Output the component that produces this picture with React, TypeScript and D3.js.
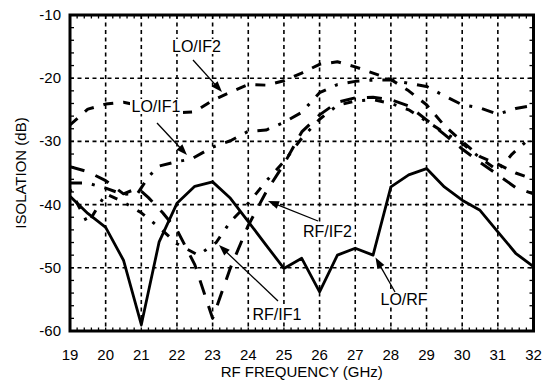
import React from "react";
import * as d3 from "d3";

// ---- Data ----
const xTicks = [19, 20, 21, 22, 23, 24, 25, 26, 27, 28, 29, 30, 31, 32];
const yTicks = [-60, -50, -40, -30, -20, -10];

const loRfFreq = [19, 19.5, 20, 20.5, 21, 21.5, 22, 22.5, 23, 23.5, 24, 24.5, 25, 25.5, 26, 26.5, 27, 27.5, 28, 28.5, 29, 29.5, 30, 30.5, 31, 31.5, 32];
const loRfIso = [-38.7, -41.4, -43.6, -48.8, -59.0, -45.9, -39.8, -37.1, -36.4, -39.0, -42.7, -46.4, -50.1, -48.5, -53.8, -48.0, -46.9, -48.0, -37.2, -35.3, -34.3, -37.2, -39.3, -40.9, -44.3, -47.7, -49.8];

const loIf2Freq = [19, 19.5, 20, 20.5, 21, 21.5, 22, 22.5, 23, 23.5, 24, 24.5, 25, 25.5, 26, 26.5, 27, 27.5, 28, 28.5, 29, 29.5, 30, 30.5, 31, 31.5, 32];
const loIf2Iso = [-27.4, -24.9, -24.1, -23.8, -24.4, -25.1, -25.5, -25.3, -23.5, -22.2, -21.0, -21.1, -20.4, -19.2, -17.8, -17.4, -18.2, -19.2, -20.2, -22.0, -24.2, -27.5, -30.0, -32.4, -33.6, -35.0, -36.0];

const loIf1Freq = [19, 19.5, 20, 20.5, 20.9, 21.2, 21.5, 22, 22.4, 23, 23.5, 24, 24.5, 25, 25.5, 26, 26.5, 27, 27.5, 28, 28.5, 29, 29.5, 30, 30.5, 31, 31.5, 32];
const loIf1Iso = [-36.6, -36.6, -37.4, -38.4, -38.2, -35.6, -33.9, -33.2, -32.8, -30.9, -29.9, -28.4, -28.2, -27.0, -25.4, -22.3, -21.0, -20.5, -20.3, -20.3, -20.8, -21.3, -22.8, -24.2, -24.7, -25.7, -24.8, -24.3];

const rfIf2Freq = [19, 19.5, 20, 20.5, 20.9, 21.2, 21.6, 22, 22.5, 23, 23.5, 24, 24.5, 25, 25.5, 26, 26.5, 27, 27.5, 28, 28.5, 29, 29.5, 30, 30.5, 31, 31.5, 32];
const rfIf2Iso = [-34.0, -34.8, -36.2, -38.3, -37.4, -38.9, -41.3, -44.0, -49.5, -58.0, -50.0, -43.3, -38.0, -33.6, -28.5, -25.8, -23.8, -23.1, -23.0, -23.4, -24.4, -26.6, -28.9, -31.2, -33.3, -35.3, -37.3, -38.3];

const rfIf1Freq = [19, 19.5, 20, 20.5, 21, 21.5, 22, 22.6, 23.1, 23.5, 24, 24.5, 25, 25.5, 26, 26.5, 27, 27.5, 28, 28.5, 29, 29.5, 30, 30.5, 31, 31.4, 31.8, 32];
const rfIf1Iso = [-37.6, -43.0, -38.3, -39.6, -41.3, -43.6, -46.2, -48.0, -46.0, -42.7, -39.8, -36.3, -33.2, -29.5, -26.5, -24.3, -23.6, -23.4, -24.0, -25.0, -26.8, -28.6, -30.3, -32.6, -34.6, -32.0, -30.0, -29.3];

const seriesNames = ["LO/RF", "LO/IF2", "LO/IF1", "RF/IF2", "RF/IF1"];

// ---- Layout ----
const W = 545;
const H = 391;
const X0 = 70;
const X1 = 533.5;
const Y0 = 15;
const Y1 = 331;
const FONT = "'Liberation Sans', Arial, Helvetica, sans-serif";

const x = d3.scaleLinear().domain([19, 32]).range([X0, X1]);
const y = d3.scaleLinear().domain([-60, -10]).range([Y1, Y0]);

const line = d3
  .line<[number, number]>()
  .x((d) => x(d[0]))
  .y((d) => y(d[1]));

function zip(f: number[], v: number[]): [number, number][] {
  return f.map((d, i) => [d, v[i]]);
}

const series = [
  { name: seriesNames[0], pts: zip(loRfFreq, loRfIso), dash: "none", w: 2.8 },
  { name: seriesNames[1], pts: zip(loIf2Freq, loIf2Iso), dash: "10,10", w: 3 },
  { name: seriesNames[2], pts: zip(loIf1Freq, loIf1Iso), dash: "12,10,3,10", w: 3 },
  { name: seriesNames[3], pts: zip(rfIf2Freq, rfIf2Iso), dash: "15,12", w: 3 },
  { name: seriesNames[4], pts: zip(rfIf1Freq, rfIf1Iso), dash: "3,10,9,10", w: 3 },
];

type Lbl = { text: string; tx: number; ty: number; ax: number; ay: number; bx: number; by: number; w: number };
const labels: Lbl[] = [
  { text: "LO/IF2", tx: 172, ty: 52, ax: 193, ay: 60, bx: 222, by: 92, w: 50 },
  { text: "LO/IF1", tx: 131.5, ty: 112, ax: 157, ay: 123, bx: 187, by: 155, w: 50 },
  { text: "RF/IF2", tx: 303, ty: 237, ax: 318, ay: 221, bx: 268, by: 201, w: 50 },
  { text: "RF/IF1", tx: 252.5, ty: 320, ax: 278, ay: 301, bx: 219, by: 245, w: 50 },
  { text: "LO/RF", tx: 380.5, ty: 305, ax: 395, ay: 292, bx: 375.5, by: 257.5, w: 47 },
];

function Arrow({ ax, ay, bx, by }: { ax: number; ay: number; bx: number; by: number }) {
  const dx = bx - ax;
  const dy = by - ay;
  const len = Math.sqrt(dx * dx + dy * dy);
  const ux = dx / len;
  const uy = dy / len;
  const hl = 11;
  const hw = 4;
  const baseX = bx - ux * hl;
  const baseY = by - uy * hl;
  const p1 = [baseX - uy * hw, baseY + ux * hw];
  const p2 = [baseX + uy * hw, baseY - ux * hw];
  return (
    <g>
      <line x1={ax} y1={ay} x2={baseX + ux * 2} y2={baseY + uy * 2} stroke="#000" strokeWidth={1.3} />
      <polygon points={`${bx},${by} ${p1[0]},${p1[1]} ${p2[0]},${p2[1]}`} fill="#000" />
    </g>
  );
}

export default function App() {
  const minorX = d3.range(19, 32.001, 0.2);
  const minorY = d3.range(-60, -9.999, 2);
  return (
    <svg
      width={W}
      height={H}
      viewBox={`0 0 ${W} ${H}`}
      style={{ position: "absolute", left: 0, top: 0, background: "#fff" }}
    >
      <defs>
        <clipPath id="plotClip">
          <rect x={X0} y={Y0} width={X1 - X0} height={Y1 - Y0} />
        </clipPath>
      </defs>
      <rect x={0} y={0} width={W} height={H} fill="#fff" />
      {/* grid */}
      {xTicks.slice(1, -1).map((t) => (
        <line key={"gx" + t} x1={x(t)} x2={x(t)} y1={Y0} y2={Y1} stroke="#000" strokeWidth={1.6} strokeDasharray="4,3.5" />
      ))}
      {yTicks.slice(1, -1).map((t) => (
        <line key={"gy" + t} x1={X0} x2={X1} y1={y(t)} y2={y(t)} stroke="#000" strokeWidth={1.6} strokeDasharray="4,3.5" />
      ))}
      {/* minor ticks */}
      {minorX.map((t, i) => (
        <g key={"mx" + i}>
          <line x1={x(t)} x2={x(t)} y1={Y0} y2={Y0 + 3.5} stroke="#000" strokeWidth={1.3} />
          <line x1={x(t)} x2={x(t)} y1={Y1} y2={Y1 - 3.5} stroke="#000" strokeWidth={1.3} />
        </g>
      ))}
      {minorY.map((t, i) => (
        <g key={"my" + i}>
          <line x1={X0} x2={X0 + 4} y1={y(t)} y2={y(t)} stroke="#000" strokeWidth={1.3} />
          <line x1={X1} x2={X1 - 4} y1={y(t)} y2={y(t)} stroke="#000" strokeWidth={1.3} />
        </g>
      ))}
      {/* data */}
      <g clipPath="url(#plotClip)">
        {series.map((s) => (
          <path
            key={s.name}
            d={line(s.pts) || ""}
            fill="none"
            stroke="#000"
            strokeWidth={s.w}
            strokeDasharray={s.dash}
            strokeLinejoin="round"
          />
        ))}
      </g>
      {/* frame */}
      <rect x={X0} y={Y0} width={X1 - X0} height={Y1 - Y0} fill="none" stroke="#000" strokeWidth={3} />
      {/* labels */}
      {labels.map((l) => (
        <g key={l.text}>
          <rect x={l.tx - 1.5} y={l.ty - 13} width={l.w + 3} height={15} fill="#fff" />
          <text x={l.tx} y={l.ty} fontFamily={FONT} fontSize={16} fill="#000">
            {l.text}
          </text>
          <Arrow ax={l.ax} ay={l.ay} bx={l.bx} by={l.by} />
        </g>
      ))}
      {/* axes labels */}
      {yTicks.map((t) => (
        <text key={"yl" + t} x={61} y={y(t) + 5} textAnchor="end" fontFamily={FONT} fontSize={15} fill="#000">
          {t}
        </text>
      ))}
      {xTicks.map((t) => (
        <text key={"xl" + t} x={x(t)} y={360} textAnchor="middle" fontFamily={FONT} fontSize={15} fill="#000">
          {t}
        </text>
      ))}
      <text
        transform={`translate(26,${(Y0 + Y1) / 2}) rotate(-90)`}
        textAnchor="middle"
        fontFamily={FONT}
        fontSize={15}
        fill="#000"
      >
        ISOLATION  (dB)
      </text>
      <text x={(X0 + X1) / 2} y={377} textAnchor="middle" fontFamily={FONT} fontSize={15} fill="#000">
        RF FREQUENCY (GHz)
      </text>
    </svg>
  );
}
